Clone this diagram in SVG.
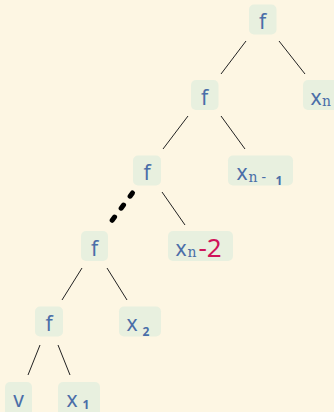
<svg xmlns="http://www.w3.org/2000/svg" width="334" height="412" viewBox="0 0 334 412">
<style>
.bg{fill:#fdf6e3}
.box{fill:#e8f0df}
.t{font-family:"Noto Sans","DejaVu Sans",sans-serif;font-size:21px;fill:#4a6ea8}
.c{text-anchor:middle}
.sub{font-family:"DejaVu Serif","Liberation Serif",serif;font-size:14px;fill:#4a6ea8}
.sb{font-family:"Noto Sans","DejaVu Sans",sans-serif;font-size:12px;font-weight:bold;fill:#4a6ea8}
.red{font-family:"Noto Sans","DejaVu Sans",sans-serif;font-size:26px;fill:#d0145a}
.e{stroke:#222;stroke-width:1;fill:none}
</style>
<rect class="bg" x="0" y="0" width="334" height="412"/>
<g id="connectors">
<line class="e" x1="246" y1="41" x2="221" y2="74"/>
<line class="e" x1="279" y1="41" x2="305" y2="74"/>
<line class="e" x1="188" y1="116" x2="163" y2="149"/>
<line class="e" x1="221" y1="116" x2="245" y2="149"/>
<line x1="132.5" y1="193" x2="110.5" y2="222.5" stroke="#000" stroke-width="5" stroke-linecap="round" stroke-dasharray="4 11"/>
<line class="e" x1="162" y1="192" x2="185" y2="225"/>
<line class="e" x1="82" y1="268" x2="62" y2="300"/>
<line class="e" x1="107" y1="268" x2="127" y2="300"/>
<line class="e" x1="40" y1="345" x2="28" y2="375"/>
<line class="e" x1="58" y1="345" x2="70" y2="375"/>
</g>
<g id="n_root">
<rect class="box" x="249" y="4.5" width="27.5" height="30" rx="5"/>
<text class="t c" x="262.5" y="29">f</text>
</g>
<g id="n_xn">
<rect class="box" x="303" y="80" width="40" height="30" rx="5"/>
<text class="t" x="310.5" y="104.5">x</text>
<text class="sub" x="322" y="105.5">n</text>
</g>
<g id="n_f2">
<rect class="box" x="191" y="80" width="27.5" height="30" rx="5"/>
<text class="t c" x="204.5" y="104.5">f</text>
</g>
<g id="n_xn1">
<rect class="box" x="228" y="155.5" width="65" height="30" rx="5"/>
<text class="t" x="236.5" y="180">x</text>
<text class="sub" x="248.5" y="182">n</text>
<text class="sub" x="261.5" y="182" style="font-family:'Noto Sans',sans-serif">-</text>
<text class="sb" x="275.5" y="184.5">1</text>
</g>
<g id="n_f3">
<rect class="box" x="133" y="155.5" width="28" height="30" rx="5"/>
<text class="t c" x="147" y="180">f</text>
</g>
<g id="n_xn2">
<rect class="box" x="168" y="231" width="65" height="30" rx="5"/>
<text class="t" x="175.5" y="256">x</text>
<text class="sub" x="187.5" y="257">n</text>
<text class="red" x="198.5" y="256.5">-2</text>
</g>
<g id="n_f4">
<rect class="box" x="81" y="231" width="27" height="30" rx="5"/>
<text class="t c" x="94.5" y="256">f</text>
</g>
<g id="n_f5">
<rect class="box" x="35" y="306.5" width="28" height="30" rx="5"/>
<text class="t c" x="49" y="331">f</text>
</g>
<g id="n_x2">
<rect class="box" x="119" y="306.5" width="42" height="30" rx="5"/>
<text class="t" x="126.5" y="331">x</text>
<text class="sb" x="142.5" y="336">2</text>
</g>
<g id="n_v">
<rect class="box" x="5" y="382" width="27" height="34" rx="5"/>
<text class="t c" x="18.5" y="406.5">v</text>
</g>
<g id="n_x1">
<rect class="box" x="58" y="382" width="42" height="34" rx="5"/>
<text class="t" x="66.5" y="406.5">x</text>
<text class="sb" x="82.5" y="408.5">1</text>
</g>
</svg>
